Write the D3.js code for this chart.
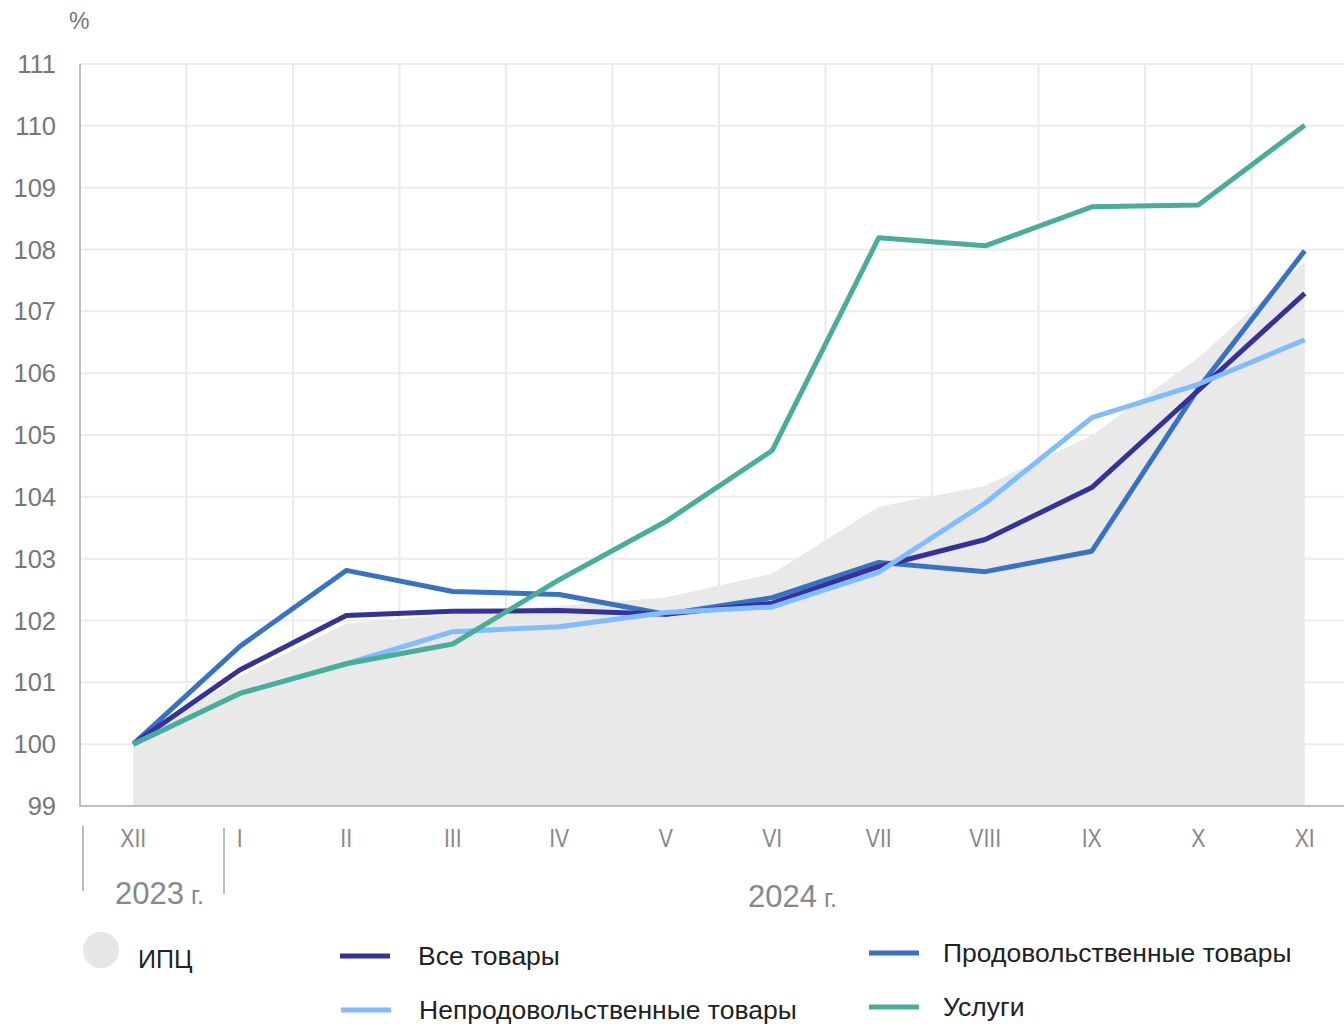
<!DOCTYPE html>
<html>
<head>
<meta charset="utf-8">
<script src="https://cdn.jsdelivr.net/npm/d3@7"></script>
<style>
  body { margin: 0; background: #fff; }
  svg { font-family: "Liberation Sans", Arial, sans-serif; }
</style>
</head>
<body>
<div id="chart"></div>
<script>
// months (Dec 2023 .. Nov 2024)
var months = ["XII", "I", "II", "III", "IV", "V", "VI", "VII", "VIII", "IX", "X", "XI"];
var yTicks = [99, 100, 101, 102, 103, 104, 105, 106, 107, 108, 109, 110, 111];

// values, % of Dec 2023
var cpi      = [100, 101.1, 101.95, 102.1, 102.24, 102.37, 102.76, 103.84, 104.18, 104.99, 106.25, 107.8];
var allGoods = [100, 101.2, 102.08, 102.15, 102.16, 102.1, 102.28, 102.87, 103.31, 104.15, 105.72, 107.29];
var food     = [100, 101.58, 102.81, 102.47, 102.42, 102.1, 102.37, 102.94, 102.79, 103.12, 105.75, 107.98];
var nonFood  = [100, 100.82, 101.3, 101.82, 101.9, 102.13, 102.22, 102.78, 103.9, 105.28, 105.82, 106.54];
var services = [100, 100.82, 101.3, 101.62, 102.66, 103.6, 104.75, 108.19, 108.06, 108.69, 108.72, 110.01];

var svgWidth = 1344;
var svgHeight = 1024;

var svg = d3.select("#chart")
  .append("svg")
  .attr("width", svgWidth)
  .attr("height", svgHeight);

// scales
var x = d3.scaleBand()
  .domain(months)
  .range([80, 1358]);

var y = d3.scaleLinear()
  .domain([99, 111])
  .range([806, 64]);

var cx = d => x(d) + x.bandwidth() / 2;

// grid
var grid = svg.append("g");
grid.selectAll(".hgrid")
  .data(yTicks.slice(1))
  .enter()
  .append("line")
  .attr("x1", 80)
  .attr("x2", svgWidth)
  .attr("y1", d => y(d))
  .attr("y2", d => y(d))
  .attr("stroke", "#ebebeb")
  .attr("stroke-width", 2);

grid.selectAll(".vgrid")
  .data(months.slice(1))
  .enter()
  .append("line")
  .attr("x1", d => x(d))
  .attr("x2", d => x(d))
  .attr("y1", y(111))
  .attr("y2", y(99))
  .attr("stroke", "#ebebeb")
  .attr("stroke-width", 2);

// CPI area
var area = d3.area()
  .x((d, i) => cx(months[i]))
  .y0(y(99))
  .y1(d => y(d));

svg.append("path")
  .datum(cpi)
  .attr("d", area)
  .attr("fill", "#e9e9e9");

// axes lines
svg.append("line")
  .attr("x1", 80).attr("x2", 80)
  .attr("y1", y(111)).attr("y2", y(99))
  .attr("stroke", "#bdbdbd")
  .attr("stroke-width", 2);

svg.append("line")
  .attr("x1", 79).attr("x2", svgWidth)
  .attr("y1", y(99)).attr("y2", y(99))
  .attr("stroke", "#bdbdbd")
  .attr("stroke-width", 2);

// y labels
svg.selectAll(".ylab")
  .data(yTicks)
  .enter()
  .append("text")
  .attr("x", 56)
  .attr("y", d => y(d) + 9)
  .attr("text-anchor", "end")
  .attr("font-size", 25.5)
  .attr("fill", "#777")
  .text(d => d);

svg.append("text")
  .attr("x", 69)
  .attr("y", 29)
  .attr("font-size", 23)
  .attr("fill", "#777")
  .text("%");

// x labels
svg.selectAll(".xlab")
  .data(months)
  .enter()
  .append("text")
  .attr("x", d => cx(d))
  .attr("y", 847)
  .attr("text-anchor", "middle")
  .attr("font-size", 25)
  .attr("fill", "#888")
  .attr("transform", d => `translate(${cx(d)},0) scale(0.85,1) translate(${-cx(d)},0)`)
  .text(d => d);

// year separators
svg.append("line")
  .attr("x1", 83).attr("x2", 83)
  .attr("y1", 826).attr("y2", 891)
  .attr("stroke", "#bbb").attr("stroke-width", 2);
svg.append("line")
  .attr("x1", 224).attr("x2", 224)
  .attr("y1", 828).attr("y2", 894)
  .attr("stroke", "#bbb").attr("stroke-width", 2);

var y2023 = svg.append("text")
  .attr("x", 115)
  .attr("y", 904)
  .attr("fill", "#888");
y2023.append("tspan").attr("font-size", 31).text("2023");
y2023.append("tspan").attr("font-size", 25).text(" г.");

var y2024 = svg.append("text")
  .attr("x", 748)
  .attr("y", 907)
  .attr("fill", "#888");
y2024.append("tspan").attr("font-size", 31).text("2024");
y2024.append("tspan").attr("font-size", 25).text(" г.");

// lines
var series = [
  { name: "Все товары", values: allGoods, color: "#35329a" },
  { name: "Продовольственные товары", values: food, color: "#3872c4" },
  { name: "Непродовольственные товары", values: nonFood, color: "#80bcff" },
  { name: "Услуги", values: services, color: "#48ad99" }
];

var line = d3.line()
  .x((d, i) => cx(months[i]))
  .y(d => y(d));

// draw order: food, all goods, non-food, services
[series[1], series[0], series[2], series[3]].forEach(function(s) {
  svg.append("path")
    .datum(s.values)
    .attr("d", line)
    .attr("fill", "none")
    .attr("stroke", s.color)
    .attr("stroke-width", 5)
    .attr("stroke-linejoin", "round");
});

// legend
var legend = svg.append("g");
legend.append("circle")
  .attr("cx", 101).attr("cy", 950).attr("r", 18)
  .attr("fill", "#e6e6e6");
legend.append("text")
  .attr("x", 138).attr("y", 968)
  .attr("font-size", 25)
  .attr("fill", "#222")
  .text("ИПЦ");

var legendItems = [
  { s: series[0], lx: 340, ly: 956 },
  { s: series[2], lx: 341, ly: 1010 },
  { s: series[1], lx: 869, ly: 953 },
  { s: series[3], lx: 869, ly: 1007 }
];

legendItems.forEach(function(it) {
  legend.append("line")
    .attr("x1", it.lx).attr("x2", it.lx + 50)
    .attr("y1", it.ly).attr("y2", it.ly)
    .attr("stroke", it.s.color)
    .attr("stroke-width", 5);
  legend.append("text")
    .attr("x", it.lx + (it.lx > 600 ? 74 : 78))
    .attr("y", it.ly + 9)
    .attr("font-size", 26.5)
    .attr("fill", "#222")
    .text(it.s.name);
});
</script>
</body>
</html>
